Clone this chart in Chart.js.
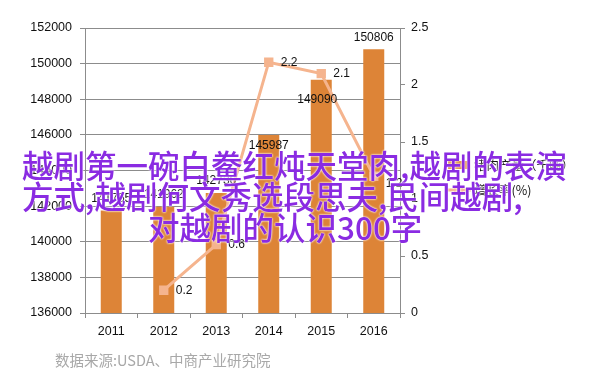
<!DOCTYPE html>
<html>
<head>
<meta charset="utf-8">
<script src="https://cdn.jsdelivr.net/npm/chart.js@4.4.1/dist/chart.umd.min.js"></script>
<style>
    html, body { margin: 0; padding: 0; background: #fff; }
    #wrap { position: relative; width: 602px; height: 384px; overflow: hidden; }
    #wrap canvas { position: absolute; left: 0; top: 0; }
    .overlay {
        position: absolute; white-space: nowrap;
        font-family: 'Noto Sans CJK SC', sans-serif; font-weight: 500;
        font-size: 31.5px; line-height: 31px; color: #8a2be2;
        text-shadow: 0 0 2px #fff, 0 0 2px #fff;
    }
    #source {
        position: absolute; left: 55px; top: 349px; white-space: nowrap;
        font-family: 'Noto Sans CJK SC', sans-serif; font-size: 14.5px; color: #a8a8a8;
    }
</style>
</head>
<body>
<div id="wrap">
    <canvas id="chart" width="602" height="384"></canvas>
    <div class="overlay" style="left:22px; top:149px;">越剧第一碗白鲞红炖天堂肉,越剧的表演</div>
    <div class="overlay" style="left:22px; top:180px;">方式,越剧何文秀选段思夫,民间越剧,</div>
    <div class="overlay" style="left:148px; top:211px;">对越剧的认识300字</div>
    <div id="source">数据来源:USDA、中商产业研究院</div>
</div>
<script>
// values
const years = ['2011', '2012', '2013', '2014', '2015', '2016'];
const output = [141755, 141962, 142736, 145987, 149090, 150806];
const growth = [null, 0.2, 0.6, 2.2, 2.1, 1.2];
const seriesNames = ['猪肉产量（千吨）', '增长率(%)'];

const gridGrey = '#8c8c8c';
const barColor = '#dd8437';
const lineColor = '#f5b48e';

Chart.defaults.font.family = "'Liberation Sans', Arial, sans-serif";
Chart.defaults.font.size = 12;
Chart.defaults.color = '#222';

// value labels: bars above the top, line points to the right
const valueLabels = {
    id: 'valueLabels',
    afterDatasetsDraw(chart) {
        const ctx = chart.ctx;
        ctx.save();
        ctx.font = "12px 'Liberation Sans', Arial, sans-serif";
        ctx.fillStyle = '#111';
        // 2014 / 2015 labels sit lower in the original, out of the line's way
        const barShift = { 3: [0, 23], 4: [-4, 32] };
        chart.getDatasetMeta(0).data.forEach((bar, i) => {
            const s = barShift[i] || [0, 0];
            ctx.textAlign = 'center';
            ctx.textBaseline = 'bottom';
            ctx.fillText(String(output[i]), bar.x + s[0], bar.y - 6 + s[1]);
        });
        chart.getDatasetMeta(1).data.forEach((pt, i) => {
            if (growth[i] === null) return;
            ctx.textAlign = 'left';
            ctx.textBaseline = 'middle';
            const dy = i === 5 ? 7 : 0;
            ctx.fillText(String(growth[i]), pt.x + 12, pt.y + dy);
        });
        ctx.restore();
    }
};

// legend drawn to the right of the plot
const sideLegend = {
    id: 'sideLegend',
    afterDraw(chart) {
        const ctx = chart.ctx;
        const x = chart.chartArea.right + 46;
        ctx.save();
        ctx.fillStyle = barColor;
        ctx.fillRect(x + 2, 161, 22, 8);
        ctx.strokeStyle = lineColor;
        ctx.lineWidth = 3;
        ctx.beginPath();
        ctx.moveTo(x, 190);
        ctx.lineTo(x + 25, 190);
        ctx.stroke();
        ctx.fillStyle = lineColor;
        ctx.fillRect(x + 8, 186, 9, 9);
        ctx.fillStyle = '#111';
        ctx.font = "12.5px 'Noto Sans CJK SC', sans-serif";
        ctx.textAlign = 'left';
        ctx.textBaseline = 'middle';
        ctx.fillText(seriesNames[0], x + 28, 165);
        ctx.fillText(seriesNames[1], x + 28, 190);
        ctx.restore();
    }
};

const ctx = document.getElementById('chart').getContext('2d');
new Chart(ctx, {
    data: {
        labels: years,
        datasets: [
            {
                type: 'bar',
                label: seriesNames[0],
                data: output,
                backgroundColor: barColor,
                categoryPercentage: 1,
                barPercentage: 0.4,
                yAxisID: 'y',
                order: 2
            },
            {
                type: 'line',
                label: seriesNames[1],
                data: growth,
                borderColor: lineColor,
                backgroundColor: lineColor,
                borderWidth: 3,
                pointStyle: 'rect',
                pointRadius: 4.5,
                tension: 0,
                yAxisID: 'y1',
                order: 1
            }
        ]
    },
    options: {
        responsive: false,
        animation: false,
        layout: { padding: { top: 28, left: 0, right: 0, bottom: 0 } },
        plugins: {
            legend: { display: false },
            tooltip: { enabled: false }
        },
        scales: {
            x: {
                offset: true,
                grid: { drawOnChartArea: false, offset: true, tickLength: 5, color: gridGrey },
                border: { color: gridGrey },
                ticks: { padding: 6, color: '#111', font: { size: 12.5 } },
                afterFit(scale) { scale.height = 71; }
            },
            y: {
                position: 'left',
                min: 136000,
                max: 152000,
                ticks: {
                    stepSize: 2000, padding: 8, color: '#111', font: { size: 12.5 },
                    callback: v => String(v)
                },
                grid: { color: gridGrey, tickLength: 5 },
                border: { color: gridGrey },
                afterFit(scale) { scale.width = 85; }
            },
            y1: {
                position: 'right',
                min: 0,
                max: 2.5,
                ticks: {
                    stepSize: 0.5, padding: 6, color: '#111', font: { size: 12.5 },
                    callback: v => String(v)
                },
                grid: { drawOnChartArea: false, color: gridGrey, tickLength: 5 },
                border: { color: gridGrey },
                afterFit(scale) { scale.width = 202; }
            }
        }
    },
    plugins: [valueLabels, sideLegend]
});
</script>
</body>
</html>
